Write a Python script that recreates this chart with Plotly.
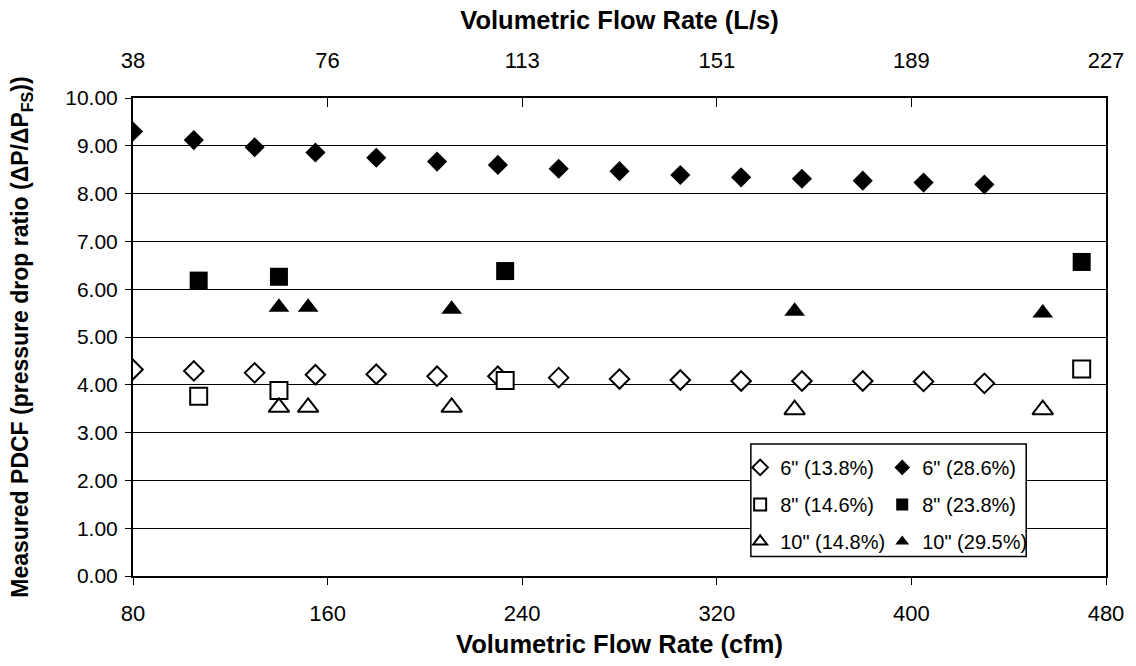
import plotly.graph_objects as go

# ---- data ----
cfm_6 = [80, 105, 130, 155, 180, 205, 230, 255, 280, 305, 330, 355, 380, 405, 430]
pdcf_6_138 = [4.32, 4.29, 4.25, 4.21, 4.22, 4.18, 4.18, 4.15, 4.12, 4.10, 4.08, 4.08, 4.08, 4.07, 4.03]
pdcf_6_286 = [9.30, 9.12, 8.97, 8.86, 8.75, 8.67, 8.60, 8.52, 8.47, 8.39, 8.34, 8.31, 8.27, 8.23, 8.19]

cfm_8 = [107, 140, 233, 470]
pdcf_8_146 = [3.76, 3.88, 4.09, 4.33]
pdcf_8_238 = [6.18, 6.26, 6.38, 6.57]

cfm_10 = [140, 152, 211, 352, 454]
pdcf_10_148 = [3.53, 3.53, 3.53, 3.48, 3.48]
pdcf_10_295 = [5.62, 5.62, 5.58, 5.54, 5.50]

cfm_ticks = [80, 160, 240, 320, 400, 480]
ls_tick_labels = ["38", "76", "113", "151", "189", "227"]

series_names = ['6" (13.8%)', '6" (28.6%)', '8" (14.6%)', '8" (23.8%)', '10" (14.8%)', '10" (29.5%)']

SANS = "Liberation Sans, Arial, sans-serif"

fig = go.Figure()

def add(x, y, name, symbol, filled, size, legend):
    fig.add_trace(go.Scatter(
        x=x, y=y, name=name, mode="markers",
        marker=dict(symbol=symbol, size=size,
                    color="black" if filled else "white",
                    line=dict(color="black", width=0 if filled else 2)),
        xaxis="x", yaxis="y", legend=legend, legendgroup=name,
    ))

add(cfm_6, pdcf_6_138, series_names[0], "diamond", False, 15, "legend")
add(cfm_6, pdcf_6_286, series_names[1], "diamond", True, 15.5, "legend2")
add(cfm_8, pdcf_8_146, series_names[2], "square", False, 17, "legend")
add(cfm_8, pdcf_8_238, series_names[3], "square", True, 18, "legend2")
add(cfm_10, pdcf_10_148, series_names[4], "triangle-up", False, 18, "legend")
add(cfm_10, pdcf_10_295, series_names[5], "triangle-up", True, 18, "legend2")

# invisible trace to activate the top (L/s) axis
fig.add_trace(go.Scatter(x=[cfm_ticks[0], cfm_ticks[-1]], y=[0, 0], xaxis="x2", yaxis="y",
                         mode="markers", marker=dict(opacity=0), showlegend=False,
                         hoverinfo="skip"))

leg_common = dict(
    xanchor="left", yanchor="top", orientation="v",
    bgcolor="rgba(0,0,0,0)", borderwidth=0,
    font=dict(family=SANS, size=20, color="black"),
    itemsizing="constant", tracegroupgap=8,
)

fig.update_layout(
    width=1136, height=666,
    paper_bgcolor="white", plot_bgcolor="white",
    margin=dict(l=133, r=28, t=98, b=90),
    showlegend=True,
    legend=dict(x=0.624, y=0.268, **leg_common),
    legend2=dict(x=0.770, y=0.268, **leg_common),
    shapes=[dict(type="rect", xref="paper", yref="paper",
                 x0=0.635, x1=0.918, y0=0.041, y1=0.276,
                 line=dict(color="black", width=1.5), fillcolor="white", layer="above")],
    xaxis=dict(
        range=[80, 480], tickvals=cfm_ticks, ticktext=[str(v) for v in cfm_ticks],
        showgrid=False, zeroline=False,
        showline=True, linecolor="black", linewidth=1.5,
        ticks="outside", ticklen=7, tickcolor="black", tickwidth=1,
        ticklabelstandoff=10,
        tickfont=dict(family=SANS, size=22, color="black"),
        title=dict(text="<b>Volumetric Flow Rate (cfm)</b>", standoff=10,
                   font=dict(family=SANS, size=25.5, color="black")),
    ),
    xaxis2=dict(
        range=[80, 480], overlaying="x", side="top", anchor="y",
        tickvals=cfm_ticks, ticktext=ls_tick_labels,
        showgrid=False, zeroline=False,
        showline=True, linecolor="black", linewidth=1.5,
        ticks="inside", ticklen=9, tickcolor="black", tickwidth=1,
        ticklabelstandoff=19,
        tickfont=dict(family=SANS, size=22, color="black"),
        title=dict(text="<b>Volumetric Flow Rate (L/s)</b>", standoff=12,
                   font=dict(family=SANS, size=25.5, color="black")),
    ),
    yaxis=dict(
        range=[0, 10], dtick=1, tick0=0, tickformat=".2f",
        showgrid=True, gridcolor="black", gridwidth=1,
        zeroline=False,
        showline=True, linecolor="black", linewidth=2, mirror=True,
        ticks="outside", ticklen=6, tickcolor="black", tickwidth=1,
        ticklabelstandoff=3,
        tickfont=dict(family=SANS, size=21, color="black"),
        title=dict(text="<b>Measured PDCF (pressure drop ratio (ΔP/ΔP<sub>FS</sub>))</b>",
                   standoff=30, font=dict(family=SANS, size=23, color="black")),
    ),
)

fig.write_html("out.html",
               config={"displayModeBar": False},
               post_script="document.body.style.margin='0';document.body.style.overflow='hidden';")
